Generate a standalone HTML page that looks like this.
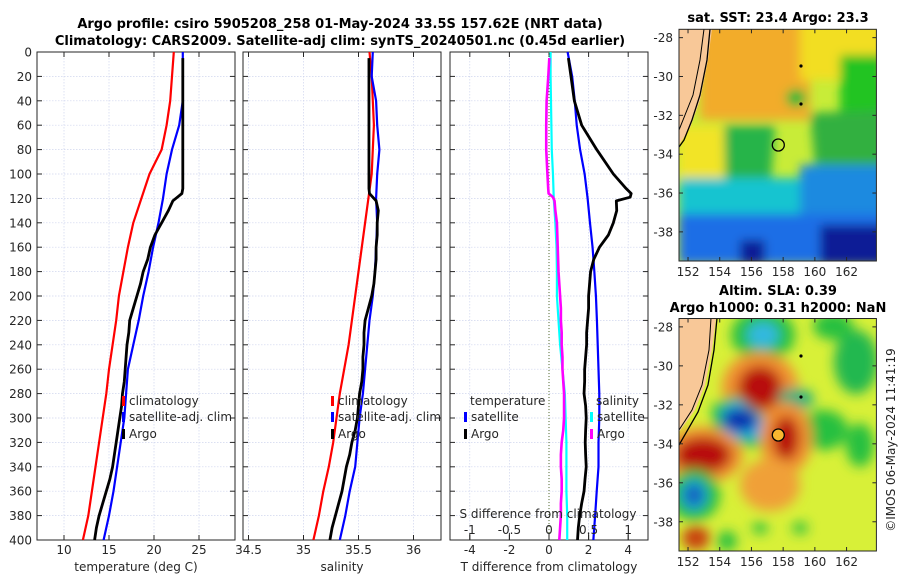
<!DOCTYPE html>
<html><head><meta charset="utf-8">
<style>
html,body{margin:0;padding:0;background:#fff;}
svg{display:block;font-family:"DejaVu Sans","Liberation Sans",sans-serif;}
.tk{font-size:12px;fill:#262626;}
.ttl{font-size:13px;font-weight:bold;fill:#000;}
</style></head>
<body>
<svg id="fig" width="900" height="580" viewBox="0 0 900 580" xmlns="http://www.w3.org/2000/svg">
<defs>
<filter id="blur4" x="-20%" y="-20%" width="140%" height="140%"><feGaussianBlur stdDeviation="5"/></filter>
<filter id="blur6" x="-20%" y="-20%" width="140%" height="140%"><feGaussianBlur stdDeviation="6"/></filter>
<clipPath id="clipTop"><rect x="679" y="29.3" width="197.4" height="231.7"/></clipPath>
<clipPath id="clipBot"><rect x="679" y="318.5" width="197.4" height="232.5"/></clipPath>
</defs>
<text class="ttl" x="340" y="28" text-anchor="middle">Argo profile: csiro 5905208_258 01-May-2024 33.5S 157.62E (NRT data)</text>
<text class="ttl" x="340" y="45" text-anchor="middle">Climatology: CARS2009. Satellite-adj clim: synTS_20240501.nc (0.45d earlier)</text>

<!-- SST map -->
<g>
<g clip-path="url(#clipTop)">
<rect x="679" y="29" width="198" height="232" fill="#c8ec38"/>
<g filter="url(#blur4)">
<rect x="700" y="20" width="110" height="100" fill="#f2ac2c"/>
<rect x="800" y="20" width="90" height="60" fill="#f2de22"/>
<rect x="840" y="55" width="45" height="60" fill="#22c422"/>
<ellipse cx="796" cy="98" rx="10" ry="9" fill="#22b838"/>
<rect x="679" y="126" width="66" height="64" fill="#f2e428"/>
<polygon points="724,125 775,125 770,195 725,190" fill="#28b448"/>
<polygon points="810,113 885,110 885,165 815,165" fill="#30b040"/>
<rect x="679" y="178" width="210" height="40" fill="#18c4d0"/>
<rect x="800" y="165" width="90" height="60" fill="#1a8ae0"/>
<rect x="679" y="214" width="210" height="50" fill="#1c6ee6"/>
<rect x="820" y="225" width="70" height="40" fill="#0a1a96"/>
<rect x="740" y="240" width="25" height="25" fill="#0a1a96"/>
</g>
<polygon points="679,29 712,29 708,60 700,100 690,128 679,145" fill="#f8c898"/>
<polyline points="710,29 707,60 700,95 692,120 684,140 679,147" fill="none" stroke="#000" stroke-width="1.3"/>
<polyline points="704,29 700,60 693,95 685,115 679,130" fill="none" stroke="#000" stroke-width="1"/>
<circle cx="801" cy="66" r="1.6" fill="#000"/><circle cx="801" cy="104" r="1.6" fill="#000"/>
<circle cx="778.3" cy="145" r="6" fill="none" stroke="#000" stroke-width="1.3"/>
</g>
<rect x="679" y="29.3" width="197.4" height="231.7" fill="none" stroke="#262626" stroke-width="1"/>
</g>
<text class="ttl" x="778" y="22" text-anchor="middle">sat. SST: 23.4 Argo: 23.3</text>

<!-- SLA map -->
<g>
<g clip-path="url(#clipBot)">
<rect x="679" y="318" width="198" height="233" fill="#d8f038"/>
<g filter="url(#blur6)">
<ellipse cx="763" cy="335" rx="32" ry="26" fill="#28c040"/>
<ellipse cx="763" cy="335" rx="16" ry="13" fill="#30b8e0"/>
<ellipse cx="760" cy="388" rx="38" ry="36" fill="#f09030"/>
<ellipse cx="760" cy="388" rx="22" ry="22" fill="#b80808"/>
<polygon points="712,405 735,395 785,430 775,450 735,445 712,430" fill="#28c040"/>
<polygon points="720,410 738,400 772,425 768,440 735,438 722,428" fill="#20b0e0"/>
<ellipse cx="740" cy="420" rx="18" ry="12" fill="#0830b0"/>
<ellipse cx="856" cy="362" rx="22" ry="32" fill="#20b850"/>
<ellipse cx="833" cy="326" rx="20" ry="14" fill="#28c040"/>
<ellipse cx="796" cy="399" rx="18" ry="11" fill="#20b080"/>
<ellipse cx="823" cy="430" rx="25" ry="20" fill="#28c040"/>
<ellipse cx="860" cy="445" rx="14" ry="22" fill="#28c040"/>
<ellipse cx="786" cy="438" rx="26" ry="36" fill="#f09030"/>
<ellipse cx="786" cy="438" rx="13" ry="22" fill="#b80808"/>
<ellipse cx="703" cy="455" rx="40" ry="28" fill="#f09030"/>
<ellipse cx="703" cy="455" rx="28" ry="18" fill="#b80808"/>
<ellipse cx="694" cy="495" rx="26" ry="26" fill="#28c040"/>
<ellipse cx="694" cy="495" rx="13" ry="15" fill="#1890e0"/>
<ellipse cx="694" cy="495" rx="6" ry="7" fill="#0a2aa0"/>
<ellipse cx="770" cy="485" rx="30" ry="26" fill="#f0a038"/>
<ellipse cx="696" cy="538" rx="14" ry="12" fill="#c84010"/>
<ellipse cx="727" cy="541" rx="10" ry="10" fill="#28c040"/>
<ellipse cx="760" cy="528" rx="8" ry="6" fill="#28c040"/>
<ellipse cx="800" cy="528" rx="8" ry="6" fill="#28c040"/>
</g>
<polygon points="679,318 716,318 712,350 705,385 695,410 679,432" fill="#f8c898"/>
<polyline points="717,318 714,350 708,385 698,412 679,445" fill="none" stroke="#000" stroke-width="1.3"/>
<polyline points="711,318 709,350 702,385 692,410 679,430" fill="none" stroke="#000" stroke-width="1"/>
<circle cx="801" cy="356" r="1.6" fill="#000"/><circle cx="801" cy="397" r="1.6" fill="#000"/>
<circle cx="778.3" cy="435" r="6" fill="#f8b830" stroke="#000" stroke-width="1.3"/>
</g>
<rect x="679" y="318.5" width="197.4" height="232.5" fill="none" stroke="#262626" stroke-width="1"/>
</g>
<text class="ttl" x="778" y="295" text-anchor="middle">Altim. SLA: 0.39</text>
<text class="ttl" x="778" y="312" text-anchor="middle">Argo h1000: 0.31 h2000: NaN</text>
<text class="tk" transform="translate(895,440) rotate(-90)" text-anchor="middle">©IMOS 06-May-2024 11:41:19</text>
</svg>
<script>
// ---- data ----
const depthStd = [0,20,40,60,80,100,120,140,160,180,200,220,240,260,280,300,320,340,360,380,400];
const tClim = [22.2,22.0,21.8,21.4,20.85,19.5,18.6,17.7,17.1,16.6,16.1,15.8,15.4,15.0,14.7,14.3,13.9,13.5,13.1,12.7,12.1];
const tSat = [23.2,23.2,23.2,22.8,22.0,21.4,21.0,20.5,19.9,19.4,18.8,18.3,17.7,17.1,16.9,16.7,16.3,15.9,15.5,15.0,14.4];
const argoDepth = [5,20,40,60,80,100,112,116,119,122,130,140,150,160,170,180,190,200,210,220,230,240,250,260,270,280,290,300,310,320,330,340,350,360,370,380,390,400];
const argoT = [23.2,23.2,23.2,23.2,23.2,23.2,23.2,23.1,22.6,22.1,21.6,20.85,20.1,19.6,19.3,18.8,18.5,18.1,17.7,17.3,17.2,17.0,16.9,16.8,16.7,16.5,16.4,16.2,16.0,15.8,15.6,15.4,15.1,14.7,14.3,13.9,13.6,13.4];
const sClim = [35.60,35.62,35.63,35.64,35.63,35.62,35.59,35.56,35.53,35.50,35.47,35.44,35.41,35.37,35.33,35.30,35.27,35.23,35.18,35.14,35.09];
const sSat = [35.63,35.62,35.66,35.67,35.69,35.67,35.66,35.67,35.66,35.65,35.63,35.60,35.58,35.56,35.54,35.51,35.49,35.47,35.42,35.38,35.33];
const argoS = [35.595,35.595,35.595,35.595,35.595,35.595,35.595,35.60,35.63,35.66,35.68,35.67,35.67,35.66,35.66,35.65,35.64,35.62,35.59,35.56,35.55,35.55,35.54,35.54,35.53,35.51,35.50,35.49,35.47,35.44,35.42,35.39,35.37,35.35,35.32,35.29,35.26,35.24];
const dTArgo = [0.98,1.11,1.28,1.65,2.41,3.25,3.9,4.15,4.1,3.4,3.42,3.25,3.0,2.55,2.26,2.1,2.05,2.0,2.0,1.95,1.9,1.9,1.85,1.8,1.8,1.77,1.85,1.88,1.85,1.83,1.85,1.88,1.82,1.77,1.65,1.55,1.48,1.44];
const dTSat = [0.94,1.17,1.3,1.4,1.57,1.8,1.95,2.07,2.2,2.29,2.37,2.42,2.46,2.5,2.54,2.54,2.5,2.5,2.41,2.33,2.24];
const dSArgo = [0.004,-0.009,-0.03,-0.035,-0.035,-0.02,-0.01,-0.005,0.05,0.07,0.08,0.10,0.105,0.11,0.115,0.12,0.13,0.14,0.15,0.15,0.16,0.16,0.17,0.17,0.18,0.19,0.19,0.19,0.18,0.16,0.15,0.15,0.16,0.16,0.15,0.15,0.14,0.13];
const dSSat = [0.02,0.02,0.025,0.03,0.035,0.05,0.06,0.08,0.095,0.1,0.1,0.12,0.14,0.17,0.2,0.21,0.22,0.22,0.22,0.23,0.23];
const depthTicks = [0,20,40,60,80,100,120,140,160,180,200,220,240,260,280,300,320,340,360,380,400];
const tTicks = [10,15,20,25];
const sTicks = [34.5,35,35.5,36];
const dTTicks = [-4,-2,0,2,4];
const dSTicks = [-1,-0.5,0,0.5,1];
const dSTickLabels = ["-1","-0.5","0","0.5","1"];
const mapLonTicks = [152,154,156,158,160,162];
const mapLatTicks = [-28,-30,-32,-34,-36,-38];

const NS = "http://www.w3.org/2000/svg";
const svg = document.getElementById('fig');
function mk(tag, attrs, parent){ const e=document.createElementNS(NS,tag); for(const k in attrs) e.setAttribute(k,attrs[k]); (parent||svg).appendChild(e); return e; }

const Y0=52, PH=488, PW=198;
function yScale(d){ return Y0 + d/400*PH; }
function makeX(x0, lo, hi){ return v => x0 + (v-lo)/(hi-lo)*PW; }

function panel(name, x0, lo, hi, ticks, tickLabels, xlabel){
  const g = mk('g',{});
  
  
  const xs = makeX(x0, lo, hi);
  depthTicks.forEach(d=>{
    const l = mk('line',{x1:x0,x2:x0+PW,y1:yScale(d),y2:yScale(d),stroke:'#cfd5ee','stroke-width':0.7,'stroke-dasharray':'1.5,1.5'},g);
    
    
    mk('line',{x1:x0,x2:x0+5,y1:yScale(d),y2:yScale(d),stroke:'#262626'},g);
    mk('line',{x1:x0+PW-5,x2:x0+PW,y1:yScale(d),y2:yScale(d),stroke:'#262626'},g);
  });
  ticks.forEach((t,i)=>{
    const x = xs(t);
    const l = mk('line',{x1:x,x2:x,y1:Y0,y2:Y0+PH,stroke:'#cfd5ee','stroke-width':0.7,'stroke-dasharray':'1.5,1.5'},g);
    
    
    mk('line',{x1:x,x2:x,y1:Y0+PH-5,y2:Y0+PH,stroke:'#262626'},g);
    mk('line',{x1:x,x2:x,y1:Y0,y2:Y0+5,stroke:'#262626'},g);
    const tx = mk('text',{x:x,y:554,'text-anchor':'middle',class:'tk'},g);
    tx.textContent = tickLabels[i];
    
    
  });
  const r = mk('rect',{x:x0,y:Y0,width:PW,height:PH,fill:'none',stroke:'#262626','stroke-width':1},g);
  
  
  const xl = mk('text',{x:x0+PW/2,y:571,'text-anchor':'middle',class:'tk','font-size':'13'},g);
  xl.textContent = xlabel;
  
  
  return {g, xs};
}
function series(p, depths, vals, color, w, name){
  const pts = vals.map((v,i)=> p.xs(v).toFixed(2)+','+yScale(depths[i]).toFixed(2)).join(' ');
  const pl = mk('polyline',{points:pts,fill:'none',stroke:color,'stroke-width':w,'stroke-linejoin':'round'},p.g);
  
  
}
function legendItem(g, mx, y, color, label, name){
  mk('rect',{x:mx,y:y-9,width:3,height:10,fill:color},g);
  const t = mk('text',{x:mx+7,y:y,class:'tk'},g);
  t.textContent = label;
  
  
}

depthTicks.forEach(d=>{
  const t = mk('text',{x:32,y:yScale(d)+4.5,'text-anchor':'end',class:'tk'});
  t.textContent = d;
  
  
});

const p1 = panel('temperature-panel', 37, 7, 29, tTicks, tTicks.map(String), 'temperature (deg C)');
series(p1, depthStd, tClim, '#ff0000', 2.2, 'temperature-climatology-line');
series(p1, depthStd, tSat, '#0000ff', 2.2, 'temperature-satellite-line');
series(p1, argoDepth, argoT, '#000000', 2.8, 'temperature-argo-line');
legendItem(p1.g, 122, 405, '#ff0000', 'climatology', 'legend-climatology');
legendItem(p1.g, 122, 421, '#0000ff', 'satellite-adj. clim', 'legend-satellite-adj');
legendItem(p1.g, 122, 438, '#000000', 'Argo', 'legend-argo');

const p2 = panel('salinity-panel', 243, 34.45, 36.25, sTicks, ['34.5','35','35.5','36'], 'salinity');
series(p2, depthStd, sClim, '#ff0000', 2.2, 'salinity-climatology-line');
series(p2, depthStd, sSat, '#0000ff', 2.2, 'salinity-satellite-line');
series(p2, argoDepth, argoS, '#000000', 2.8, 'salinity-argo-line');
legendItem(p2.g, 331, 405, '#ff0000', 'climatology', 'legend-climatology');
legendItem(p2.g, 331, 421, '#0000ff', 'satellite-adj. clim', 'legend-satellite-adj');
legendItem(p2.g, 331, 438, '#000000', 'Argo', 'legend-argo');

const p3 = panel('difference-panel', 450, -5, 5, dTTicks, dTTicks.map(String), 'T difference from climatology');
const zl = mk('line',{x1:p3.xs(0),x2:p3.xs(0),y1:Y0,y2:Y0+PH,stroke:'#556b2f','stroke-width':1,'stroke-dasharray':'1,2'},p3.g);


const sx = makeX(450, -1.25, 1.25);
const p3s = {g:p3.g, xs:sx};
series(p3s, depthStd, dSSat, '#00ffff', 2.2, 'salinity-diff-satellite-line');
series(p3s, argoDepth, dSArgo, '#ff00ff', 2.6, 'salinity-diff-argo-line');
series(p3, depthStd, dTSat, '#0000ff', 2.2, 'temperature-diff-satellite-line');
series(p3, argoDepth, dTArgo, '#000000', 2.8, 'temperature-diff-argo-line');
dSTicks.forEach((s,i)=>{
  mk('line',{x1:sx(s),x2:sx(s),y1:533,y2:540,stroke:'#262626'},p3.g);
  const t = mk('text',{x:sx(s),y:534,'text-anchor':'middle',class:'tk'},p3.g);
  t.textContent = dSTickLabels[i];
  
  
});
const st = mk('text',{x:548,y:518,'text-anchor':'middle',class:'tk','font-size':'13'},p3.g);
st.textContent = 'S difference from climatology';


const lt = mk('text',{x:470,y:405,class:'tk','font-size':'13'},p3.g);
lt.textContent = 'temperature';


const ls = mk('text',{x:596,y:405,class:'tk','font-size':'13'},p3.g);
ls.textContent = 'salinity';


legendItem(p3.g, 464, 421, '#0000ff', 'satellite', 'legend-t-satellite');
legendItem(p3.g, 464, 438, '#000000', 'Argo', 'legend-t-argo');
legendItem(p3.g, 590, 421, '#00ffff', 'satellite', 'legend-s-satellite');
legendItem(p3.g, 590, 438, '#ff00ff', 'Argo', 'legend-s-argo');

function mapAxes(top, h, name){
  const lonX = lon => 679.3 + (lon-151.45)/(163.9-151.45)*197.4;
  const latY = lat => top + (-27.57-lat)/(39.5-27.57)*h;
  mapLonTicks.forEach(lon=>{
    const x = lonX(lon);
    mk('line',{x1:x,x2:x,y1:top+h-4,y2:top+h,stroke:'#262626'});
    mk('line',{x1:x,x2:x,y1:top,y2:top+4,stroke:'#262626'});
    const t = mk('text',{x:x,y:top+h+15,'text-anchor':'middle',class:'tk'});
    t.textContent = lon;
    
    
  });
  mapLatTicks.forEach(lat=>{
    const y = latY(lat);
    mk('line',{x1:679,x2:683,y1:y,y2:y,stroke:'#262626'});
    mk('line',{x1:872.4,x2:876.4,y1:y,y2:y,stroke:'#262626'});
    const t = mk('text',{x:673,y:y+4.5,'text-anchor':'end',class:'tk'});
    t.textContent = lat;
    
    
  });
}
mapAxes(29.3, 231.7, 'sst-map');
mapAxes(318.5, 232.5, 'sla-map');
</script>
</body></html>
